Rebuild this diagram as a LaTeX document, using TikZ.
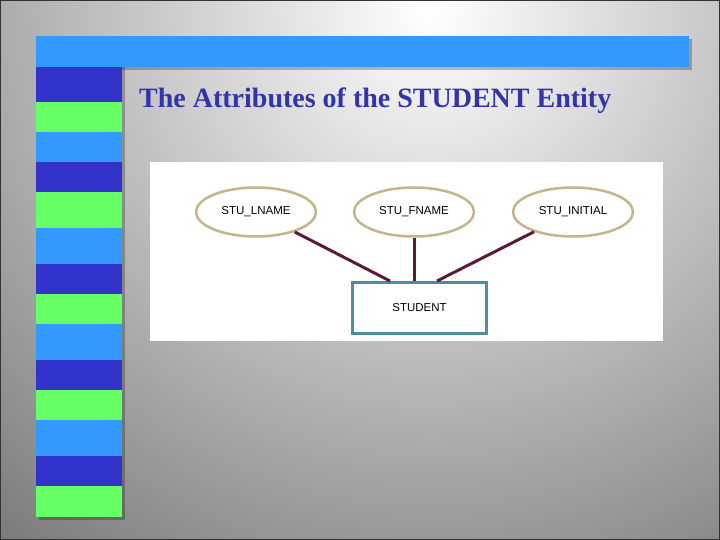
\documentclass[tikz,border=0pt]{standalone}
\usepackage{fontspec}
\setmainfont{Liberation Serif}
\newfontfamily\arialfont{Liberation Sans}
\usepackage{xcolor}
\usetikzlibrary{positioning,shapes.geometric}
\definecolor{barblue}{RGB}{51,153,255}
\definecolor{darkblue}{RGB}{51,51,204}
\definecolor{stripegreen}{RGB}{102,255,102}
\definecolor{titleblue}{RGB}{51,51,170}
\definecolor{ovaltan}{RGB}{196,180,140}
\definecolor{linkred}{RGB}{92,26,56}
\definecolor{boxteal}{RGB}{78,142,150}
\definecolor{slidegray}{RGB}{104,104,104}
\tikzset{
  attr/.style={draw=ovaltan, ellipse, line width=2.5bp, fill=white, minimum width=120bp, minimum height=49bp, inner sep=0pt, font=\arialfont\fontsize{11.5bp}{13bp}\selectfont},
  entbox/.style={draw=boxteal, rectangle, line width=3bp, fill=white, minimum width=134bp, minimum height=51bp, inner sep=0pt, font=\arialfont\fontsize{11.5bp}{13bp}\selectfont},
  link/.style={draw=linkred, line width=3bp},
  shadowbox/.style={fill=black, opacity=0.25}
}

\begin{document}
\begin{tikzpicture}[x=1bp, y=-1bp]
    \useasboundingbox (0,0) rectangle (720,540);
    % Slide background
    \begin{scope}
      \clip (0,0) rectangle (720,540);
      \shade[inner color=white, outer color=slidegray] (430,10) circle (780);
    \end{scope}
    \draw[gray!40!black, line width=1.5bp] (0,0) rectangle (720,540);
    
    % Top bar and stripes
    \fill[shadowbox] (39,39) rectangle (692,70);
    \fill[shadowbox] (39,67) rectangle (125,520);
    \fill[barblue] (36,36) rectangle (689,67);
    \foreach \ya/\yb/\col in {67/102/darkblue, 102/132/stripegreen, 132/162/barblue,
        162/192/darkblue, 192/228/stripegreen, 228/264/barblue,
        264/294/darkblue, 294/324/stripegreen, 324/360/barblue,
        360/390/darkblue, 390/420/stripegreen, 420/456/barblue,
        456/486/darkblue, 486/517/stripegreen}
        \fill[\col] (36,\ya) rectangle (122,\yb);
    
    % Title
    \node[anchor=base west, inner sep=0pt, text=titleblue, font=\fontsize{28bp}{30bp}\selectfont\bfseries] (title) at (139,108) {The Attributes of the STUDENT Entity};
    
    % Diagram panel
    \fill[white] (150,162) rectangle (663,341);
    
    % Entity
    \node[entbox] (student) at (419.5,308) {STUDENT};
    \coordinate (inL) at (390,281);
    \coordinate (inR) at (437,281);
    
    % Attributes
    \node[attr] (lname) at (256,212) {STU\_LNAME};
    \node[attr] (fname) at (414,212) {STU\_FNAME};
    \node[attr] (initial) at (573,212) {STU\_INITIAL};
    
    % Connectors
    \draw[link] (lname) -- (inL);
    \draw[link] (fname) -- (fname |- student.north);
    \draw[link] (initial) -- (inR);
\end{tikzpicture}
\end{document}
